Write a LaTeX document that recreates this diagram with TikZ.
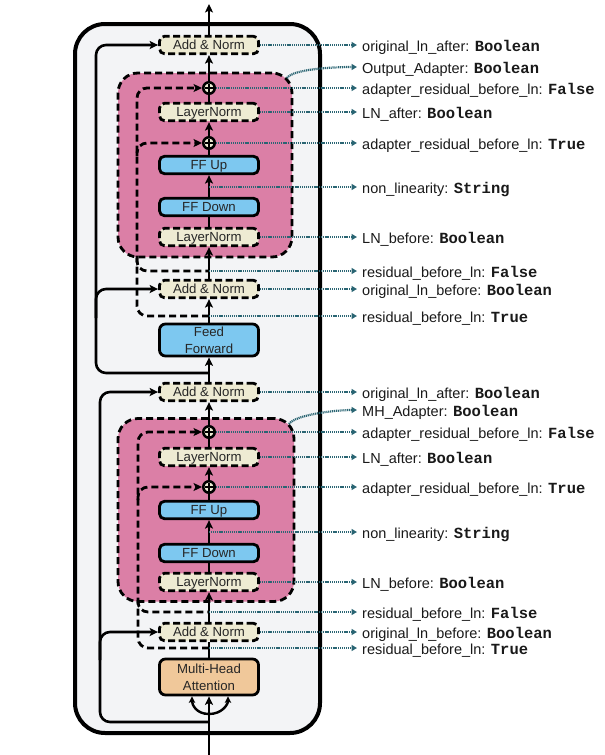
\documentclass[tikz,border=0pt]{standalone}
\usepackage{fontspec}
\setmainfont{Liberation Sans}
\newfontfamily\codefont{Liberation Mono}
\usetikzlibrary{arrows.meta}

\definecolor{panelgray}{HTML}{F3F4F6}
\definecolor{adapterpink}{HTML}{DB7FA6}
\definecolor{normcream}{HTML}{EEEBD3}
\definecolor{ffblue}{HTML}{7DC8F0}
\definecolor{attnpeach}{HTML}{F0C89A}
\definecolor{lblteal}{HTML}{2A6573}

\newcommand{\boxfont}{\fontsize{13.2}{17}\selectfont}
\newcommand{\lblfont}{\fontsize{14.5}{17}\selectfont}
\newcommand{\optval}[1]{{\codefont\bfseries\fontsize{15.5}{17}\selectfont #1}}

\begin{document}
\begin{tikzpicture}[x=1pt, y=-1pt,
  normbox/.style={draw, line width=2.8pt, dash pattern=on 7pt off 3.5pt, fill=normcream, rounded corners=5pt, minimum width=99pt, minimum height=17.5pt, inner sep=0pt, text height=9.5pt, text depth=0pt, font=\boxfont, text=black!85},
  ffbox/.style={draw, line width=2.8pt, fill=ffblue, rounded corners=5pt, minimum width=99pt, minimum height=17.5pt, inner sep=0pt, text height=9.5pt, text depth=0pt, font=\boxfont, text=black!85},
  bigbox/.style={draw, line width=2.8pt, rounded corners=6pt, minimum width=99pt, minimum height=32pt, inner sep=0pt, align=center, font=\boxfont, text=black!85},
  adapterbox/.style={draw, line width=2.8pt, dash pattern=on 7pt off 4pt, fill=adapterpink, rounded corners=20pt, inner sep=0pt},
  addsym/.style={circle, draw, line width=2.5pt, fill=normcream, minimum size=11.5pt, inner sep=0pt,
    path picture={\draw[line width=1.6pt] ([xshift=-4.5pt]path picture bounding box.center) -- ([xshift=4.5pt]path picture bounding box.center) ([yshift=-4.5pt]path picture bounding box.center) -- ([yshift=4.5pt]path picture bounding box.center);}},
  mainarr/.style={line width=2.6pt, -{Stealth[length=8.5pt,width=8pt,inset=2pt]}},
  mainline/.style={line width=2.6pt},
  forkarr/.style={line width=2.4pt, -{Stealth[length=6.5pt,width=6.5pt,inset=1.5pt]}},
  skip/.style={line width=2.6pt, rounded corners=10pt},
  resid/.style={line width=2.8pt, dash pattern=on 7pt off 4pt, rounded corners=10pt},
  lbl/.style={draw=lblteal, line width=2.2pt, dash pattern=on 1.1pt off 0.8pt, shorten >=5pt, -{Triangle[length=5.5pt,width=6pt]}},
  optname/.style={anchor=west, inner sep=0pt, text height=12.6pt, text depth=0pt, font=\lblfont, text=black!90}
]
\useasboundingbox (0,0) rectangle (605,755);

% encoder layer frame
\draw[line width=4pt, fill=panelgray, rounded corners=30pt] (75,24) rectangle (320,733);

% adapter regions
\node[adapterbox, minimum width=174pt, minimum height=184pt] (outAdapter) at (205,165) {};
\node[adapterbox, minimum width=176pt, minimum height=183pt] (mhAdapter) at (206,510) {};

% upper half: output adapter
\node[normbox] (addOutA) at (209,45) {Add \& Norm};
\node[addsym] (plusResA) at (209,88) {};
\node[normbox] (lnAfterA) at (209,112) {LayerNorm};
\node[addsym] (plusAdpA) at (209,143) {};
\node[ffbox] (ffUpA) at (209,165) {FF Up};
\node[ffbox] (ffDownA) at (209,207) {FF Down};
\node[normbox] (lnBeforeA) at (209,237) {LayerNorm};
\node[normbox] (addInA) at (209,289) {Add \& Norm};
\node[bigbox, fill=ffblue] (ffMain) at (209,340) {Feed\\Forward};

% lower half: multi-head adapter
\node[normbox] (addOutB) at (209,392) {Add \& Norm};
\node[addsym] (plusResB) at (209,432) {};
\node[normbox] (lnAfterB) at (209,457) {LayerNorm};
\node[addsym] (plusAdpB) at (209,487) {};
\node[ffbox] (ffUpB) at (209,510) {FF Up};
\node[ffbox] (ffDownB) at (209,553) {FF Down};
\node[normbox] (lnBeforeB) at (209,582) {LayerNorm};
\node[normbox] (addInB) at (209,632) {Add \& Norm};
\node[bigbox, fill=attnpeach, minimum height=36pt] (mha) at (209,677) {Multi-Head\\Attention};

% points on the main path
\coordinate (outTop) at (209,4);
\coordinate (actA) at (209,187);
\coordinate (resFalseA) at (209,271);
\coordinate (resTrueA) at (209,316);
\coordinate (splitA) at (209,373);
\coordinate (actB) at (209,532);
\coordinate (resFalseB) at (209,612);
\coordinate (resTrueB) at (209,648);
\coordinate (inFork) at (209,714);
\coordinate (splitB) at (209,722);
\coordinate (inBottom) at (209,755);
\coordinate (outCorner) at (287,78);
\coordinate (mhCorner) at (289,424);

% adapter residuals
\draw[resid, -{Stealth[length=8.5pt,width=8pt,inset=2pt]}] (resTrueA) -| (137,88) -- (plusResA.west);
\draw[resid] (137,258) |- (resFalseA);
\draw[resid, -{Stealth[length=8.5pt,width=8pt,inset=2pt]}] (137,156) |- (plusAdpA.west);
\draw[resid, -{Stealth[length=8.5pt,width=8pt,inset=2pt]}] (resTrueB) -| (138,432) -- (plusResB.west);
\draw[resid] (138,600) |- (resFalseB);
\draw[resid, -{Stealth[length=8.5pt,width=8pt,inset=2pt]}] (138,500) |- (plusAdpB.west);

% original residuals
\draw[skip, -{Stealth[length=8.5pt,width=8pt,inset=2pt]}] (splitA) -| (96,45) -- (addOutA.west);
\draw[skip, -{Stealth[length=8.5pt,width=8pt,inset=2pt]}] (96,318) |- (addInA.west);
\draw[skip, -{Stealth[length=8.5pt,width=8pt,inset=2pt]}] (splitB) -| (100,392) -- (addOutB.west);
\draw[skip, -{Stealth[length=8.5pt,width=8pt,inset=2pt]}] (100,660) |- (addInB.west);

% main path
\draw[mainarr] (addOutA.north) -- (outTop);
\draw[mainarr] (plusResA.north) -- (addOutA.south);
\draw[mainline] (lnAfterA.north) -- (plusResA.south);
\draw[mainarr] (plusAdpA.north) -- (lnAfterA.south);
\draw[mainline] (ffUpA.north) -- (plusAdpA.south);
\draw[mainarr] (ffDownA.north) -- (ffUpA.south);
\draw[mainline] (lnBeforeA.north) -- (ffDownA.south);
\draw[mainarr] (addInA.north) -- (lnBeforeA.south);
\draw[mainarr] (ffMain.north) -- (addInA.south);
\draw[mainarr] (addOutB.north) -- (ffMain.south);
\draw[mainarr] (plusResB.north) -- (addOutB.south);
\draw[mainline] (lnAfterB.north) -- (plusResB.south);
\draw[mainarr] (plusAdpB.north) -- (lnAfterB.south);
\draw[mainline] (ffUpB.north) -- (plusAdpB.south);
\draw[mainarr] (ffDownB.north) -- (ffUpB.south);
\draw[mainline] (lnBeforeB.north) -- (ffDownB.south);
\draw[mainarr] (addInB.north) -- (lnBeforeB.south);
\draw[mainline] (mha.north) -- (addInB.south);
\draw[mainarr] (inBottom) -- (mha.south);
\draw[forkarr] (inFork) .. controls +(-13,0) and +(0,8) .. ([xshift=-17pt]mha.south);
\draw[forkarr] (inFork) .. controls +(13,0) and +(0,8) .. ([xshift=19pt]mha.south);

% options, upper half
\node[optname] (lOrigAfterA) at (362,45) {original\_ln\_after: \optval{Boolean}};
\node[optname] (lOutAdp) at (362,67) {Output\_Adapter: \optval{Boolean}};
\node[optname] (lAdpResFalseA) at (362,88) {adapter\_residual\_before\_ln: \optval{False}};
\node[optname] (lLnAfterA) at (362,112) {LN\_after: \optval{Boolean}};
\node[optname] (lAdpResTrueA) at (362,143) {adapter\_residual\_before\_ln: \optval{True}};
\node[optname] (lActA) at (362,187) {non\_linearity: \optval{String}};
\node[optname] (lLnBeforeA) at (362,237) {LN\_before: \optval{Boolean}};
\node[optname] (lResFalseA) at (362,271) {residual\_before\_ln: \optval{False}};
\node[optname] (lOrigBeforeA) at (362,289) {original\_ln\_before: \optval{Boolean}};
\node[optname] (lResTrueA) at (362,316) {residual\_before\_ln: \optval{True}};

% options, lower half
\node[optname] (lOrigAfterB) at (362,392) {original\_ln\_after: \optval{Boolean}};
\node[optname] (lMhAdp) at (362,410) {MH\_Adapter: \optval{Boolean}};
\node[optname] (lAdpResFalseB) at (362,432) {adapter\_residual\_before\_ln: \optval{False}};
\node[optname] (lLnAfterB) at (362,457) {LN\_after: \optval{Boolean}};
\node[optname] (lAdpResTrueB) at (362,487) {adapter\_residual\_before\_ln: \optval{True}};
\node[optname] (lActB) at (362,532) {non\_linearity: \optval{String}};
\node[optname] (lLnBeforeB) at (362,582) {LN\_before: \optval{Boolean}};
\node[optname] (lResFalseB) at (362,612) {residual\_before\_ln: \optval{False}};
\node[optname] (lOrigBeforeB) at (362,632) {original\_ln\_before: \optval{Boolean}};
\node[optname] (lResTrueB) at (362,648) {residual\_before\_ln: \optval{True}};

% option pointers
\draw[lbl] (addOutA.east) -- (lOrigAfterA.west);
\draw[lbl] (outCorner) .. controls +(6,-9) and +(-28,0) .. (lOutAdp.west);
\draw[lbl] (plusResA.east) -- (lAdpResFalseA.west);
\draw[lbl] (lnAfterA.east) -- (lLnAfterA.west);
\draw[lbl] (plusAdpA.east) -- (lAdpResTrueA.west);
\draw[lbl] (actA) -- (lActA.west);
\draw[lbl] (lnBeforeA.east) -- (lLnBeforeA.west);
\draw[lbl] (resFalseA) -- (lResFalseA.west);
\draw[lbl] (addInA.east) -- (lOrigBeforeA.west);
\draw[lbl] (resTrueA) -- (lResTrueA.west);
\draw[lbl] (addOutB.east) -- (lOrigAfterB.west);
\draw[lbl] (mhCorner) .. controls +(6,-9) and +(-28,0) .. (lMhAdp.west);
\draw[lbl] (plusResB.east) -- (lAdpResFalseB.west);
\draw[lbl] (lnAfterB.east) -- (lLnAfterB.west);
\draw[lbl] (plusAdpB.east) -- (lAdpResTrueB.west);
\draw[lbl] (actB) -- (lActB.west);
\draw[lbl] (lnBeforeB.east) -- (lLnBeforeB.west);
\draw[lbl] (resFalseB) -- (lResFalseB.west);
\draw[lbl] (addInB.east) -- (lOrigBeforeB.west);
\draw[lbl] (resTrueB) -- (lResTrueB.west);
\end{tikzpicture}
\end{document}
